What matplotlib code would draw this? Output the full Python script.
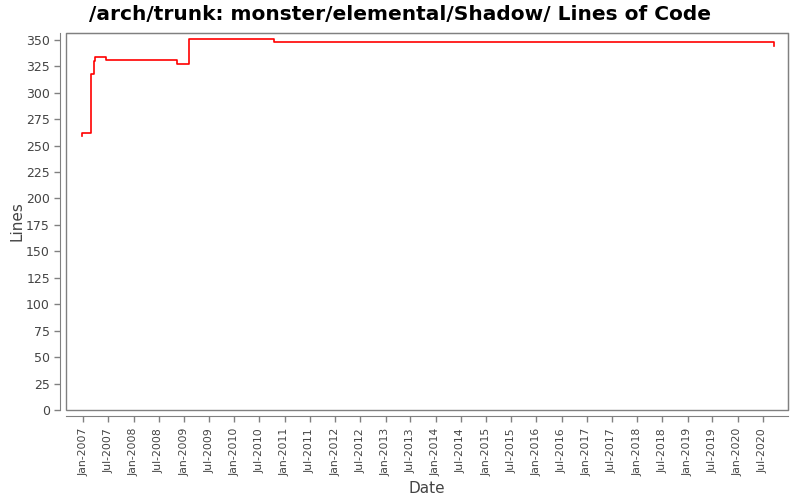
import matplotlib
matplotlib.use("Agg")
import matplotlib.pyplot as plt
import matplotlib.dates as mdates
from matplotlib.patches import Rectangle
import datetime as dt

dates = ["2006-12-19", "2006-12-21", "2007-02-23", "2007-03-21", "2007-03-28",
         "2007-06-16", "2008-11-12", "2009-02-06", "2010-10-14", "2020-09-18"]
lines = [259, 262, 318, 330, 334, 331, 327, 351, 348, 344]

x = [dt.datetime.strptime(d, "%Y-%m-%d") for d in dates]

fig = plt.figure(figsize=(8, 5), dpi=100)
ax = fig.add_axes([66/800, 90/500, (788-66)/800, (410-33)/500])
ax.step(x, lines, where="post", color="#ff0000", linewidth=1.2)

ax.set_xlim(dt.datetime(2006, 8, 28), dt.datetime(2020, 12, 30))
ax.set_ylim(0, 356.5)
ax.set_yticks(range(0, 351, 25))

ticks = []
for yr in range(2007, 2021):
    ticks.append(dt.datetime(yr, 1, 1))
    ticks.append(dt.datetime(yr, 7, 1))
ax.set_xticks(ticks)
ax.xaxis.set_major_formatter(mdates.DateFormatter("%b-%Y"))

gray = "#808080"
for s in ["left", "bottom"]:
    ax.spines[s].set_position(("outward", 4))
    ax.spines[s].set_color(gray)
for s in ["top", "right"]:
    ax.spines[s].set_color(gray)
ax.add_patch(Rectangle((0, 0), 1, 1, transform=ax.transAxes, fill=False,
                       edgecolor=gray, linewidth=1, clip_on=False))
ax.tick_params(axis="both", colors=gray, length=4, width=1, labelcolor="#444444", labelsize=9)
ax.tick_params(axis="x", labelrotation=90, labelsize=7.8, pad=5)

ax.set_xlabel("Date", fontsize=11, color="#444444", labelpad=3)
ax.set_ylabel("Lines", fontsize=11, color="#444444", labelpad=1)
fig.suptitle("/arch/trunk: monster/elemental/Shadow/ Lines of Code", fontsize=14.5,
             fontweight="bold", y=0.99)

fig.savefig("out.png", dpi=100)
